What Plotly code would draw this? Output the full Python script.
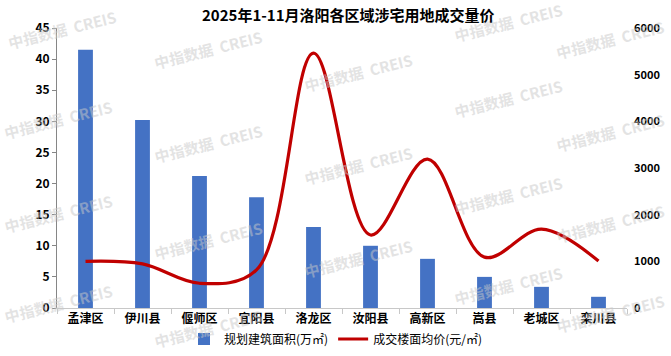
import plotly.graph_objects as go

categories = ["孟津区", "伊川县", "偃师区", "宜阳县", "洛龙区", "汝阳县", "高新区", "嵩县", "老城区", "栾川县"]
area = [41.5, 30.2, 21.2, 17.8, 13.0, 10.0, 7.9, 5.0, 3.4, 1.8]
price = [1000, 945, 530, 815, 5460, 1565, 3190, 1090, 1690, 1005]
left_ticks = [0, 5, 10, 15, 20, 25, 30, 35, 40, 45]
right_ticks = [0, 1000, 2000, 3000, 4000, 5000, 6000]
title_text = "2025年1-11月洛阳各区域涉宅用地成交量价"
watermark_text = "中指数据  CREIS"

FONT = "Noto Sans CJK SC"

fig = go.Figure()
fig.add_trace(go.Bar(
    x=categories, y=area, name="规划建筑面积(万㎡)",
    marker=dict(color="#4472C4", line=dict(width=0)), yaxis="y",
))
fig.add_trace(go.Scatter(
    x=categories, y=price, name="成交楼面均价(元/㎡)", mode="lines",
    line=dict(color="#C00000", width=3.2, shape="spline", smoothing=1.0),
    yaxis="y2",
))

# watermarks (pixel centres)
wm_pos = [
    (62, 30), (58, 120), (58, 213), (58, 303),
    (208, 50), (208, 143), (208, 240), (208, 328),
    (358, 72), (358, 165), (358, 258),
    (508, 22), (508, 98), (508, 195), (508, 285),
    (610, 40), (610, 132), (610, 223), (610, 313),
]
W, H = 671, 356
l, r, t, b = 57, 44, 28, 48
pw, ph = W - l - r, H - t - b
annotations = []
for (px, py) in wm_pos:
    annotations.append(dict(
        text=watermark_text, x=(px - l) / pw, y=1 - (py - t) / ph,
        xref="paper", yref="paper", showarrow=False, textangle=-14,
        font=dict(family=FONT, size=15, color="rgba(200,200,200,0.5)", weight="bold"),
        xanchor="center", yanchor="middle",
    ))
annotations.append(dict(
    text=title_text, x=(348 - l) / pw, y=1 - (15 - t) / ph, xref="paper", yref="paper",
    showarrow=False, xanchor="center", yanchor="middle",
    font=dict(family=FONT, size=15, color="#000000", weight="bold"),
))

fig.update_layout(
    width=W, height=H,
    margin=dict(l=l, r=r, t=t, b=b, autoexpand=False),
    paper_bgcolor="white", plot_bgcolor="white",
    bargap=0.74,
    showlegend=True,
    legend=dict(orientation="h", x=0.5, xanchor="center", xref="container",
                y=(356 - 339) / 356, yanchor="middle", yref="container",
                font=dict(family=FONT, size=12, color="#000000"),
                bgcolor="rgba(0,0,0,0)", itemwidth=30, tracegroupgap=0),
    annotations=annotations,
    xaxis=dict(
        showline=True, linecolor="#C8C8C8", linewidth=1,
        ticks="outside", tickson="boundaries", ticklen=5, tickcolor="#C8C8C8",
        tickfont=dict(family=FONT, size=12, color="#000000", weight="bold"),
        showgrid=False, zeroline=False,
    ),
    yaxis=dict(
        range=[0, 45], tickvals=left_ticks, showgrid=False, zeroline=False,
        showline=True, linecolor="#868686", linewidth=1,
        ticks="outside", ticklen=4, tickcolor="#868686",
        tickfont=dict(family=FONT, size=12, color="#000000", weight="bold"),
    ),
    yaxis2=dict(
        range=[0, 6000], tickvals=right_ticks, overlaying="y", side="right",
        showgrid=False, zeroline=False, showline=False, ticks="",
        ticklabelstandoff=6,
        tickfont=dict(family=FONT, size=11, color="#000000", weight="bold"),
    ),
)

fig.write_html("out.html", config={"displayModeBar": False},
               post_script="document.body.style.margin='0px';document.body.style.overflow='hidden';")
